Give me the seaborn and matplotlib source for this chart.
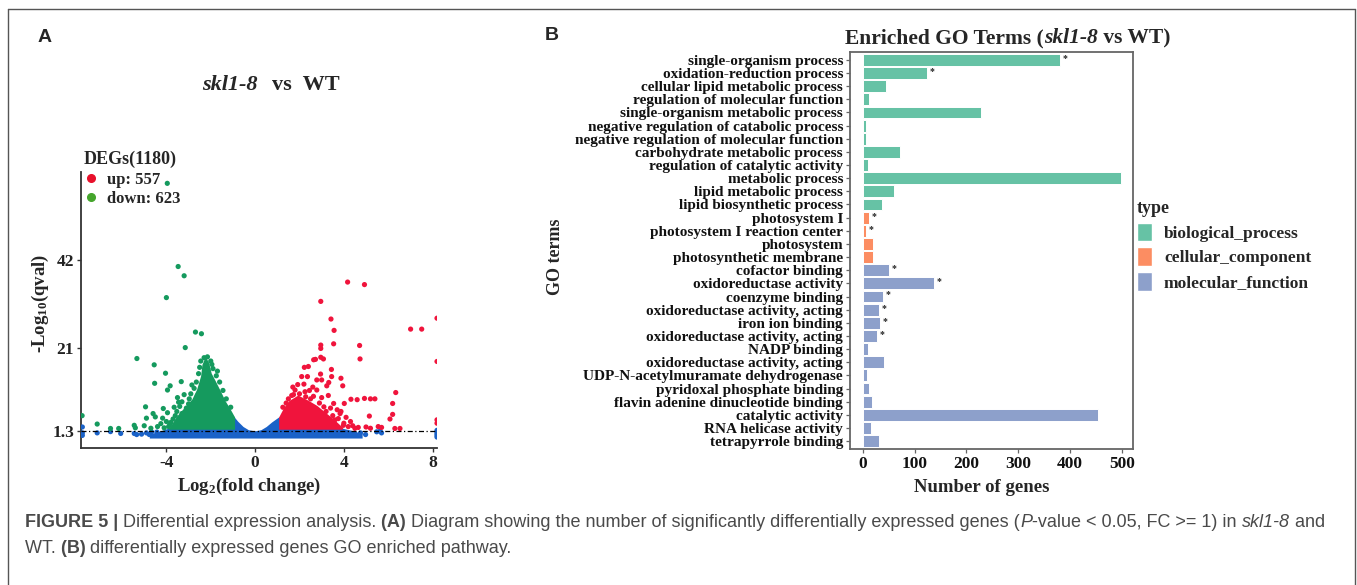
import numpy as np
import pandas as pd
import matplotlib
matplotlib.use("Agg")
import matplotlib.pyplot as plt
import seaborn as sns
from matplotlib.lines import Line2D
from matplotlib.patches import Patch
from matplotlib import font_manager

# ---------------- panel A : volcano ----------------
# scattered significant down-regulated genes
down_x = [-3.96, -3.47, -3.2, -4.0, -2.69, -2.42, -3.15, -5.33, -4.55, -4.04, -4.53, -3.83,
          -3.33, -3.95, -4.94, -4.14, -4.6, -4.5, -4.9, -3.95, -4.17, -7.12, -7.8, -6.52,
          -6.15, -5.45, -5.4, -3.5, -3.45, -3.53, -3.2, -2.9, -2.97, -3.7, -3.8,
          -2.3, -2.15, -2.0, -1.9, -1.75, -1.6, -2.55, -2.65, -2.75, -3.0, -3.1, -3.3,
          -3.5, -3.9, -4.1, -4.4, -4.7, -5.0, -3.65, -2.85, -2.5, -1.3, -1.1, -1.45,
          -2.6, -3.3, -3.6, -3.85, -3.4, -3.25, -4.25, -4.0, -2.45, -1.95, -1.7]
down_y = [60.3, 40.5, 38.3, 33.1, 24.9, 24.5, 21.2, 18.6, 17.1, 15.1, 12.7, 12.1,
          13.1, 11.1, 7.1, 6.7, 5.5, 4.7, 4.4, 5.7, 4.4, 3.0, 5.0, 1.95,
          1.95, 2.7, 2.1, 9.3, 8.2, 6.0, 10.0, 10.2, 9.0, 4.2, 3.4,
          18.8, 19.0, 18.0, 16.2, 14.5, 13.0, 15.0, 13.0, 11.5, 7.8, 6.8, 5.5,
          3.5, 2.4, 2.1, 2.4, 2.0, 2.6, 7.0, 12.3, 16.5, 9.0, 7.0, 11.0,
          9.8, 8.3, 5.0, 2.9, 7.2, 4.0, 3.1, 3.6, 18.0, 17.2, 15.6]

# scattered significant up-regulated genes
up_x = [4.17, 4.93, 2.96, 3.42, 3.56, 3.54, 2.96, 2.96, 2.96, 3.08, 2.64, 2.72, 4.71,
        4.73, 7.01, 7.51, 8.2, 8.2, 6.34, 6.2, 6.2, 6.08, 4.93, 5.2, 5.4, 5.15, 4.32,
        4.6, 3.87, 3.95, 3.45, 3.44, 3.0, 2.78, 2.4, 2.22, 2.36, 2.1, 2.95, 3.23, 3.32,
        2.78, 2.63, 3.54, 3.4, 3.1, 3.0, 1.8, 1.92, 1.73, 2.25, 2.28, 3.75, 3.98, 4.2,
        4.65, 5.55, 5.7, 6.3, 6.53, 8.2, 8.2, 4.02, 3.87, 3.83,
        1.5, 1.65, 2.0, 2.5, 2.9, 3.2, 3.5, 3.6, 4.0, 4.4, 1.25, 1.4, 2.6, 2.2, 3.3,
        4.5, 5.0, 5.2, 4.1, 4.3, 3.7, 2.45, 1.7]
up_y = [36.8, 36.2, 32.2, 28.0, 25.3, 22.1, 21.8, 21.0, 18.9, 18.5, 18.3, 18.4, 21.7,
        18.5, 25.6, 25.6, 28.2, 17.9, 10.5, 7.9, 5.3, 4.2, 9.1, 9.0, 9.0, 4.9, 8.9,
        8.8, 13.9, 12.1, 14.3, 16.0, 13.5, 13.5, 16.7, 16.5, 14.3, 14.3, 14.9, 12.1, 12.9,
        11.1, 9.6, 7.9, 6.8, 7.1, 9.3, 11.1, 12.4, 10.0, 10.7, 9.5, 4.3, 2.7, 2.4,
        2.2, 2.4, 2.2, 1.95, 1.95, 4.0, 3.2, 7.9, 6.0, 5.5,
        9.0, 9.8, 10.2, 9.0, 8.0, 6.0, 5.0, 4.0, 3.2, 2.6, 7.0, 8.0, 11.8, 12.5, 9.8,
        2.0, 2.3, 2.0, 4.6, 3.6, 6.4, 11.0, 11.8]

# scattered non-significant genes
ns_x = [-7.79, -7.79, -7.79, -7.12, -6.52, -6.06, -5.45, -5.34, -5.12, -4.77, -4.67,
        -4.43, -4.9, 4.48, 4.75, 4.98, 5.48, 5.63, 5.7, 8.2, 8.2, 8.2, 8.2, 8.2]
ns_y = [2.3, 0.9, 0.3, 0.9, 1.2, 0.76, 0.76, 0.5, 0.6, 0.5, 1.1,
        1.1, 0.9, 0.8, 0.9, 0.5, 1.15, 1.3, 0.9, 1.5, 1.1, 0.7, 0.3, -0.1]

# outlines of the saturated point clouds
down_core_x = [-0.95, -0.95, -1.14, -1.37, -1.59, -1.82, -2.0, -2.12, -2.22, -2.33, -2.39,
               -2.57, -2.79, -3.17, -3.47, -3.69, -3.8]
down_core_y = [1.9, 4.5, 6.3, 8.3, 10.7, 13.1, 14.9, 17.5, 18.4, 17.0, 14.3,
               11.1, 8.7, 6.5, 4.7, 2.9, 1.9]
up_core_x = [1.13, 1.13, 1.35, 1.58, 1.95, 2.4, 2.78, 3.15, 3.53, 3.83, 3.95]
up_core_y = [1.9, 4.5, 6.7, 8.3, 9.5, 8.3, 7.1, 5.5, 3.9, 2.4, 1.9]
ns_core_x = [-4.7, -4.2, -3.8, -1.0, -1.0, -0.8, -0.55, -0.3, 0.0, 0.3, 0.55, 0.8, 1.12,
             1.12, 3.9, 4.4, 4.8, 4.8, -4.7]
ns_core_y = [0.3, 1.1, 1.8, 1.9, 4.7, 3.4, 2.1, 1.3, 1.0, 1.3, 2.1, 3.2, 4.4,
             1.9, 1.7, 1.1, 0.4, -0.2, -0.2]

qval_cut = 1.3
n_up, n_down = 557, 623

# ---------------- panel B : GO enrichment ----------------
go_terms = ["single-organism process", "oxidation-reduction process",
            "cellular lipid metabolic process", "regulation of molecular function",
            "single-organism metabolic process", "negative regulation of catabolic process",
            "negative regulation of molecular function", "carbohydrate metabolic process",
            "regulation of catalytic activity", "metabolic process", "lipid metabolic process",
            "lipid biosynthetic process", "photosystem I", "photosystem I reaction center",
            "photosystem", "photosynthetic membrane", "cofactor binding",
            "oxidoreductase activity", "coenzyme binding", "oxidoreductase activity, acting",
            "iron ion binding", "oxidoreductase activity, acting", "NADP binding",
            "oxidoreductase activity, acting", "UDP-N-acetylmuramate dehydrogenase",
            "pyridoxal phosphate binding", "flavin adenine dinucleotide binding",
            "catalytic activity", "RNA helicase activity", "tetrapyrrole binding"]
go_counts = [380, 123, 44, 12, 228, 7, 7, 72, 10, 498, 60, 37, 11, 6, 19, 20,
             51, 137, 39, 32, 33, 28, 10, 40, 8, 12, 18, 455, 15, 31]
go_types = (["biological_process"] * 12 + ["cellular_component"] * 4
            + ["molecular_function"] * 14)
go_star = [1, 1, 0, 0, 0, 0, 0, 0, 0, 0, 0, 0, 1, 1, 0, 0,
           1, 1, 1, 1, 1, 1, 0, 0, 0, 0, 0, 0, 0, 0]
type_order = ["biological_process", "cellular_component", "molecular_function"]
type_colors = {"biological_process": "#66C2A5", "cellular_component": "#FC8D62",
               "molecular_function": "#8DA0CB"}

# ---------------- style ----------------
sns.set_style("ticks")
plt.rcParams['font.family'] = ['Liberation Serif', 'DejaVu Serif']
plt.rcParams['mathtext.fontset'] = 'custom'
plt.rcParams['mathtext.rm'] = 'Liberation Serif:bold'
plt.rcParams['mathtext.bf'] = 'Liberation Serif:bold'
plt.rcParams['mathtext.it'] = 'Liberation Serif:italic:bold'
plt.rcParams['axes.unicode_minus'] = False

c_up, c_down, c_ns = "#F0143C", "#159A5E", "#1A62C8"

W, H = 1357, 585
fig = plt.figure(figsize=(W / 100, H / 100), dpi=100)


def fx(px):
    return px / W


def fy(py):
    return 1 - py / H


axA = fig.add_axes([fx(81), fy(448), fx(437) - fx(81), fy(172) - fy(448)])
axB = fig.add_axes([fx(850), fy(449), fx(1133) - fx(850), fy(52) - fy(449)])

# ---- volcano ----
axA.fill(ns_core_x, ns_core_y, color=c_ns, lw=1.5, zorder=1)
axA.fill(down_core_x, down_core_y, color=c_down, lw=1.5, zorder=1)
axA.fill(up_core_x, up_core_y, color=c_up, lw=1.5, zorder=1)

volcano = pd.concat([
    pd.DataFrame({'log2fc': ns_x, 'qval': ns_y, 'status': 'ns'}),
    pd.DataFrame({'log2fc': down_x, 'qval': down_y, 'status': 'down'}),
    pd.DataFrame({'log2fc': up_x, 'qval': up_y, 'status': 'up'}),
], ignore_index=True)
sns.scatterplot(data=volcano, x='log2fc', y='qval', hue='status',
                palette={'ns': c_ns, 'down': c_down, 'up': c_up},
                s=14, linewidth=0, legend=False, ax=axA, zorder=3)
axA.axhline(qval_cut, color='black', lw=0.9, dashes=(4, 2, 1, 2), zorder=4)

axA.set_xlim(-7.85, 8.2)
axA.set_ylim(-2.7, 63)
axA.set_xticks([-4, 0, 4, 8])
axA.set_xticklabels(["-4", "0", "4", "8"])
axA.set_yticks([1.3, 21, 42])
axA.set_yticklabels(["1.3", "21", "42"])
axA.set_xlabel("")
axA.set_ylabel("")
for s in ['top', 'right']:
    axA.spines[s].set_visible(False)
for s in ['left', 'bottom']:
    axA.spines[s].set_color('#333333')
    axA.spines[s].set_linewidth(1.3)
axA.tick_params(length=3, width=1, color='#333333', labelsize=12.5,
                labelcolor='#222222', pad=2)
for lab in axA.get_xticklabels() + axA.get_yticklabels():
    lab.set_fontweight('bold')

legA = axA.legend(
    handles=[Line2D([], [], marker='o', ls='', color="#E8102B", ms=5.5),
             Line2D([], [], marker='o', ls='', color="#45A52C", ms=5.5)],
    labels=[f"up: {n_up}", f"down: {n_down}"], title=f"DEGs({n_up + n_down})",
    loc='upper left', bbox_to_anchor=(fx(84), fy(151)), bbox_transform=fig.transFigure,
    frameon=False, prop={'weight': 'bold', 'size': 12},
    title_fontproperties={'weight': 'bold', 'size': 13}, alignment='left',
    handlelength=0.8, handletextpad=0.6, labelspacing=0.2, borderpad=0, borderaxespad=0)

fig.text(fx(258), fy(85), "skl1-8", ha='right', va='center', size=16,
         weight='bold', style='italic')
fig.text(fx(272), fy(85), "vs  WT", ha='left', va='center', size=16, weight='bold')
fig.text(fx(249), fy(486), r"Log$_{\mathbf{2}}$(fold change)", ha='center', va='center',
         size=13.5, weight='bold')
fig.text(fx(40), fy(303), r"-Log$_{\mathbf{10}}$(qval)", ha='center', va='center',
         size=13.5, weight='bold', rotation=90)

# ---- GO bars ----
go = pd.DataFrame({'row': range(len(go_terms)), 'count': go_counts, 'type': go_types})
sns.barplot(data=go, x='count', y='row', hue='type', hue_order=type_order,
            palette=type_colors, orient='h', width=0.9, dodge=False, saturation=1,
            edgecolor='white', linewidth=0.7, legend=False, ax=axB)
for i, (c, st) in enumerate(zip(go_counts, go_star)):
    if st:
        axB.text(c + 5, i - 0.12, "*", ha='left', va='center', size=7, weight='bold')

axB.set_yticks(range(len(go_terms)))
axB.set_yticklabels(go_terms)
axB.set_ylim(len(go_terms) - 0.4, -0.6)
axB.set_xlim(-24.85, 521.85)
axB.set_xticks([0, 100, 200, 300, 400, 500])
axB.set_xticklabels(["0", "100", "200", "300", "400", "500"])
axB.set_xlabel("")
axB.set_ylabel("")
for s in axB.spines.values():
    s.set_visible(True)
    s.set_color('#666666')
    s.set_linewidth(1.3)
axB.tick_params(axis='y', length=3, width=0.9, color='#666666', labelsize=11.0,
                labelcolor='#111111', pad=2)
axB.tick_params(axis='x', length=3, width=0.9, color='#666666', labelsize=12.5,
                labelcolor='#111111', pad=2)
for lab in axB.get_xticklabels() + axB.get_yticklabels():
    lab.set_fontweight('bold')

fig.text(fx(982), fy(487), "Number of genes", ha='center', va='center', size=13.5,
         weight='bold')
fig.text(fx(555), fy(257), "GO terms", ha='center', va='center', size=13,
         weight='bold', rotation=90)

fig.legend(handles=[Patch(facecolor=type_colors[t], edgecolor='white') for t in type_order],
           labels=type_order, title="type", loc='upper left',
           bbox_to_anchor=(fx(1137), fy(200)), frameon=False,
           prop={'weight': 'bold', 'size': 12.5},
           title_fontproperties={'weight': 'bold', 'size': 13}, alignment='left',
           handlelength=0.85, handleheight=1.25, handletextpad=0.7, labelspacing=0.33,
           borderpad=0, borderaxespad=0)

# ---- mixed-style text runs (titles / caption) ----
renderer = fig.canvas.get_renderer()


def run_width(txt, **kw):
    a = fig.text(0, 0, "|" + txt + "|", **kw)
    b = fig.text(0, 0, "||", **kw)
    w = a.get_window_extent(renderer).width - b.get_window_extent(renderer).width
    a.remove()
    b.remove()
    return w


def place_runs(runs, x0, y, **kw):
    x = x0
    for txt, weight, style in runs:
        opts = dict(kw, weight=weight, style=style)
        fig.text(fx(x), fy(y), txt, ha='left', va='baseline', **opts)
        x += run_width(txt, **opts)
    return x


place_runs([("Enriched GO Terms (", 'bold', 'normal'), ("skl1-8", 'bold', 'italic'),
            (" vs WT)", 'bold', 'normal')], 845, 43, size=15.5)

fig.text(fx(45), fy(37), "A", ha='center', va='center', size=14, weight='bold',
         family='Liberation Sans')
fig.text(fx(552), fy(35), "B", ha='center', va='center', size=14, weight='bold',
         family='Liberation Sans')

names = {f.name for f in font_manager.fontManager.ttflist}
cap_family = 'Liberation Sans Narrow' if 'Liberation Sans Narrow' in names else 'Liberation Sans'
cap1 = [("FIGURE 5 | ", 'bold', 'normal'), ("Differential expression analysis. ", 'normal', 'normal'),
        ("(A) ", 'bold', 'normal'),
        ("Diagram showing the number of significantly differentially expressed genes (", 'normal', 'normal'),
        ("P", 'normal', 'italic'), ("-value < 0.05, FC >= 1) in ", 'normal', 'normal'),
        ("skl1-8", 'normal', 'italic'), (" and", 'normal', 'normal')]
cap2 = [("WT. ", 'normal', 'normal'), ("(B) ", 'bold', 'normal'),
        ("differentially expressed genes GO enriched pathway.", 'normal', 'normal')]
w10 = sum(run_width(t, size=10, family=cap_family, weight=wt, style=st) for t, wt, st in cap1)
cap_size = 10 * (1323 - 25) / w10
place_runs(cap1, 25, 527, size=cap_size, family=cap_family, color='#4a4a4a')
place_runs(cap2, 25, 553, size=cap_size, family=cap_family, color='#4a4a4a')

# outer frame
frame_kw = dict(color='#555555', lw=1.0, transform=fig.transFigure)
fig.add_artist(Line2D([fx(8), fx(8)], [fy(9), 0], **frame_kw))
fig.add_artist(Line2D([fx(8), fx(1355)], [fy(9), fy(9)], **frame_kw))
fig.add_artist(Line2D([fx(1355), fx(1355)], [fy(9), 0], **frame_kw))

fig.savefig("out.png", dpi=100)
